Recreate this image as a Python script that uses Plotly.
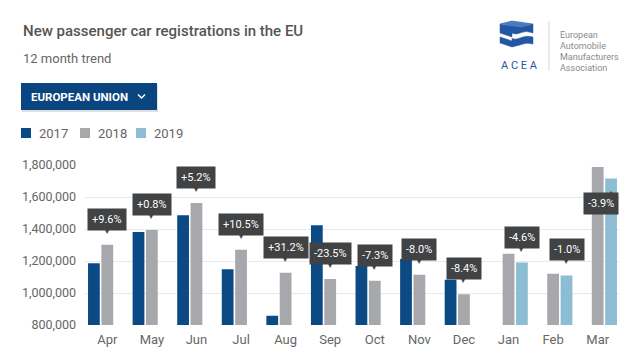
import plotly.graph_objects as go

months = ["Apr", "May", "Jun", "Jul", "Aug", "Sep", "Oct", "Nov", "Dec", "Jan", "Feb", "Mar"]
y2017 = [1186000, 1381000, 1486000, 1149000, 858000, 1424000, 1168000, 1213000, 1083000, None, None, None]
y2018 = [1302000, 1393000, 1562000, 1271000, 1127000, 1087000, 1077000, 1114000, 992000, 1246000, 1120000, 1788000]
y2019 = [None, None, None, None, None, None, None, None, None, 1190000, 1110000, 1716000]
changes = ["+9.6%", "+0.8%", "+5.2%", "+10.5%", "+31.2%", "-23.5%", "-7.3%", "-8.0%", "-8.4%", "-4.6%", "-1.0%", "-3.9%"]
series_names = ["2017", "2018", "2019"]
series_colors = ["#0b4a84", "#a7a8ab", "#8dbdd2"]

W, H = 644, 358
L, R, T, B = 85, 24, 165, 33
PW, PH = W - L - R, H - T - B
BARGAP = 0.1


def px(x):
    return (x - L) / PW


def py(y):
    return (H - B - y) / PH


fig = go.Figure()
for name, vals, col in zip(series_names, [y2017, y2018, y2019], series_colors):
    fig.add_trace(go.Bar(x=months, y=vals, name=name, marker_color=col,
                         marker_line_width=0, showlegend=False,
                         hoverinfo="x+y+name"))

slot_px = PW / len(months) * (1 - BARGAP) / 3
annotations = []
for i, (m, txt) in enumerate(zip(months, changes)):
    if y2019[i] is None:
        yv, xs = y2018[i], 0
    else:
        yv, xs = y2019[i], slot_px
    box = dict(x=m, y=yv, xref="x", yref="y", text=txt, showarrow=False,
               font=dict(family="Roboto", size=11, color="white"),
               bgcolor="#414243", borderpad=4)
    tri = dict(x=m, y=yv, xref="x", yref="y", showarrow=False,
               font=dict(family="DejaVu Sans", size=8, color="#414243"),
               xshift=xs)
    if i == len(months) - 1:
        box.update(yanchor="top", yshift=-14, xshift=xs - 10)
        tri.update(text="▲", yanchor="top", yshift=-9)
    else:
        box.update(yanchor="bottom", yshift=14, xshift=xs)
        tri.update(text="▼", yanchor="bottom", yshift=8)
    annotations.append(tri)
    annotations.append(box)

# Titles
annotations.append(dict(x=px(21), y=py(31), xref="paper", yref="paper", xanchor="left",
                        yanchor="middle", showarrow=False,
                        text="New passenger car registrations in the EU",
                        font=dict(family="Roboto", size=15, color="#555555", weight=500)))
annotations.append(dict(x=px(21), y=py(59), xref="paper", yref="paper", xanchor="left",
                        yanchor="middle", showarrow=False, text="12 month trend",
                        font=dict(family="Roboto", size=13, color="#666666")))
# Button
annotations.append(dict(x=px(29), y=py(97), xref="paper", yref="paper", xanchor="left",
                        yanchor="middle", showarrow=False, text="EUROPEAN UNION",
                        font=dict(family="Roboto", size=11.5, color="white", weight=700)))
# Legend texts
leg_x = [21, 80, 136]
for name, col, lx in zip(series_names, series_colors, leg_x):
    annotations.append(dict(x=px(lx + 16), y=py(133), xref="paper", yref="paper",
                            xanchor="left", yanchor="middle", showarrow=False, text=name,
                            font=dict(family="Roboto", size=13, color="#666666")))
# Logo texts
annotations.append(dict(x=px(519), y=py(65), xref="paper", yref="paper", xanchor="center",
                        yanchor="middle", showarrow=False, text="A C E A",
                        font=dict(family="Roboto", size=11, color="#2457a3")))
for j, line in enumerate(["European", "Automobile", "Manufacturers", "Association"]):
    annotations.append(dict(x=px(558), y=py(35 + j * 11), xref="paper", yref="paper",
                            xanchor="left", yanchor="middle", showarrow=False, text=line,
                            font=dict(family="Roboto", size=9, color="#8a8a8a")))

shapes = []
# Button shadow and box
shapes.append(dict(type="rect", xref="paper", yref="paper", x0=px(22), x1=px(158),
                   y0=py(85), y1=py(112), fillcolor="rgba(0,0,0,0.12)", line_width=0, layer="below"))
shapes.append(dict(type="rect", xref="paper", yref="paper", x0=px(21), x1=px(157),
                   y0=py(83), y1=py(110), fillcolor="#0a4580", line_width=0, layer="below"))
# Chevron
shapes.append(dict(type="path", xref="paper", yref="paper",
                   path=f"M{px(138)},{py(94.5)} L{px(141.5)},{py(98)} L{px(145)},{py(94.5)}",
                   line=dict(color="white", width=1.5)))
# Legend squares
for col, lx in zip(series_colors, leg_x):
    shapes.append(dict(type="rect", xref="paper", yref="paper", x0=px(lx), x1=px(lx + 10),
                       y0=py(128), y1=py(138), fillcolor=col, line_width=0))
# Logo icon (stylised stacked block)
logo_blue = "#2457a3"
p1 = (f"M{px(500)},{py(24)} L{px(512)},{py(21)} L{px(533)},{py(24)} L{px(533)},{py(33)} "
      f"Q{px(526)},{py(30)} {px(520)},{py(33)} Q{px(516)},{py(35)} {px(512)},{py(33)} "
      f"L{px(512)},{py(37)} L{px(500)},{py(33)} Z")
p2 = (f"M{px(500)},{py(37)} L{px(512)},{py(41)} L{px(512)},{py(38.5)} Q{px(516)},{py(40)} {px(520)},{py(38)} "
      f"Q{px(526)},{py(35)} {px(533)},{py(37)} L{px(533)},{py(44)} Q{px(526)},{py(42)} {px(520)},{py(45)} "
      f"L{px(512)},{py(47)} L{px(500)},{py(43)} Z")
for p in (p1, p2):
    shapes.append(dict(type="path", xref="paper", yref="paper", path=p,
                       fillcolor=logo_blue, line=dict(color=logo_blue, width=0.5)))
top_face = (f"M{px(501.5)},{py(24.3)} L{px(512)},{py(21.8)} L{px(531)},{py(24.3)} L{px(521)},{py(26.8)} Z")
shapes.append(dict(type="path", xref="paper", yref="paper", path=top_face,
                   fillcolor="#4a78bf", line=dict(color="#6f95cf", width=0.5)))
shapes.append(dict(type="line", xref="paper", yref="paper", x0=px(549), x1=px(549),
                   y0=py(21), y1=py(71), line=dict(color="#d5d5d5", width=1)))

fig.update_layout(
    width=W, height=H,
    margin=dict(l=L, r=R, t=T, b=B),
    paper_bgcolor="white", plot_bgcolor="white",
    barmode="group", bargap=BARGAP, bargroupgap=0.12,
    showlegend=False,
    font=dict(family="Roboto", color="#666666"),
    annotations=annotations, shapes=shapes,
    xaxis=dict(type="category", showgrid=False, showline=False, ticks="",
               ticklabelstandoff=5,
               tickfont=dict(family="Roboto", size=13, color="#666666")),
    yaxis=dict(range=[800000, 1800000], tickvals=[800000, 1000000, 1200000, 1400000, 1600000, 1800000],
               tickformat=",", showgrid=True, gridcolor="#e9e9e9", gridwidth=1,
               zeroline=False, showline=False, ticklabelstandoff=8,
               tickfont=dict(family="Roboto", size=12.5, color="#666666")),
)

fig.write_html("out.html", config={"displayModeBar": False},
               post_script="document.body.style.margin='0';document.body.style.overflow='hidden';")
